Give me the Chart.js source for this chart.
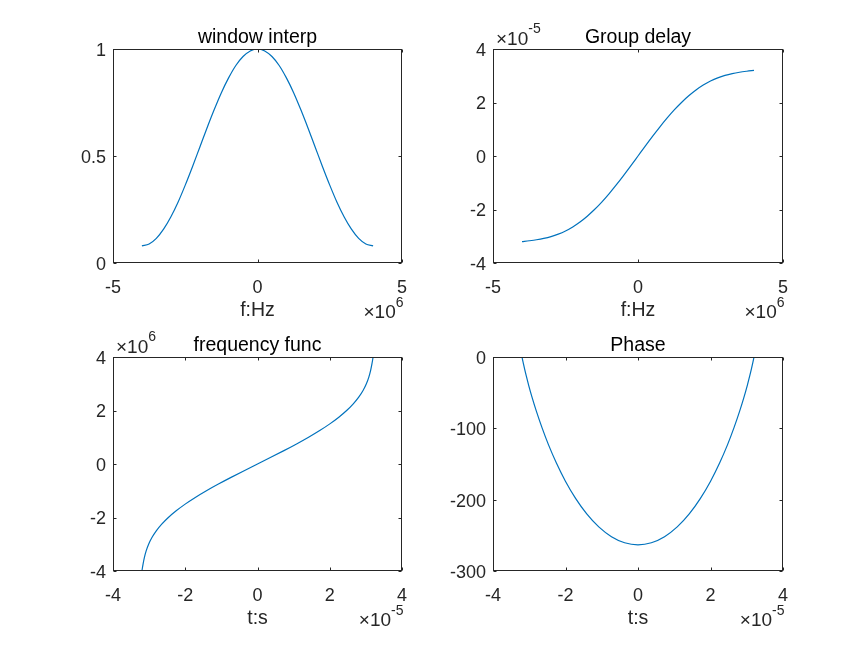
<!DOCTYPE html>
<html><head><meta charset="utf-8">
<script src="https://cdn.jsdelivr.net/npm/chart.js@4.4.1/dist/chart.umd.min.js"></script>
<style>
html,body{margin:0;padding:0;background:#fff;}
#wrap{position:relative;width:865px;height:648px;overflow:hidden;background:#fff;}
canvas{position:absolute;left:0;top:0;}
</style></head><body><div id="wrap">
<canvas id="c1" width="865" height="648"></canvas>
<canvas id="c2" width="865" height="648"></canvas>
<canvas id="c3" width="865" height="648"></canvas>
<canvas id="c4" width="865" height="648"></canvas>
</div>
<script>
// ---- data ----
const freqHz = [-4e6,-3.75e6,-3.5e6,-3.25e6,-3e6,-2.75e6,-2.5e6,-2.25e6,-2e6,-1.75e6,-1.5e6,-1.25e6,-1e6,-0.75e6,-0.5e6,-0.25e6,0,
  0.25e6,0.5e6,0.75e6,1e6,1.25e6,1.5e6,1.75e6,2e6,2.25e6,2.5e6,2.75e6,3e6,3.25e6,3.5e6,3.75e6,4e6];
const windowInterp = [0.080,0.089,0.115,0.158,0.215,0.284,0.364,0.450,0.540,0.630,0.716,0.796,0.865,0.923,0.965,0.991,1.000,
  0.991,0.965,0.923,0.865,0.796,0.716,0.630,0.540,0.450,0.364,0.284,0.215,0.158,0.115,0.089,0.080];
const groupDelayS = [-3.200e-5,-3.169e-5,-3.132e-5,-3.082e-5,-3.014e-5,-2.922e-5,-2.802e-5,-2.651e-5,-2.468e-5,-2.251e-5,-2.002e-5,-1.722e-5,-1.414e-5,-1.082e-5,-0.732e-5,-0.369e-5,0,
  0.369e-5,0.732e-5,1.082e-5,1.414e-5,1.722e-5,2.002e-5,2.251e-5,2.468e-5,2.651e-5,2.802e-5,2.922e-5,3.014e-5,3.082e-5,3.132e-5,3.169e-5,3.200e-5];
const timeS = [-3.200e-5,-3.169e-5,-3.132e-5,-3.082e-5,-3.014e-5,-2.922e-5,-2.802e-5,-2.651e-5,-2.468e-5,-2.251e-5,-2.002e-5,-1.722e-5,-1.414e-5,-1.082e-5,-0.732e-5,-0.369e-5,0,
  0.369e-5,0.732e-5,1.082e-5,1.414e-5,1.722e-5,2.002e-5,2.251e-5,2.468e-5,2.651e-5,2.802e-5,2.922e-5,3.014e-5,3.082e-5,3.132e-5,3.169e-5,3.200e-5];
const instFreqHz = [-4e6,-3.75e6,-3.5e6,-3.25e6,-3e6,-2.75e6,-2.5e6,-2.25e6,-2e6,-1.75e6,-1.5e6,-1.25e6,-1e6,-0.75e6,-0.5e6,-0.25e6,0,
  0.25e6,0.5e6,0.75e6,1e6,1.25e6,1.5e6,1.75e6,2e6,2.25e6,2.5e6,2.75e6,3e6,3.25e6,3.5e6,3.75e6,4e6];
const phaseRad = [0,-7.5,-16.0,-26.6,-40.0,-56.6,-76.3,-98.7,-123.2,-148.6,-174.1,-198.2,-220.0,-238.2,-251.9,-260.4,-263.3,
  -260.4,-251.9,-238.2,-220.0,-198.2,-174.1,-148.6,-123.2,-98.7,-76.3,-56.6,-40.0,-26.6,-16.0,-7.5,0];

// ---- ticks ----
const xTicksFreq = [-5e6, 0, 5e6];
const yTicksWindow = [0, 0.5, 1];
const yTicksDelay = [-4e-5, -2e-5, 0, 2e-5, 4e-5];
const xTicksTime = [-4e-5, -2e-5, 0, 2e-5, 4e-5];
const yTicksFreq = [-4e6, -2e6, 0, 2e6, 4e6];
const yTicksPhase = [-300, -200, -100, 0];

// ---- texts ----
const titles = ['window interp', 'Group delay', 'frequency func', 'Phase'];
const xLabels = ['f:Hz', 'f:Hz', 't:s', 't:s'];

const FONT = '"Liberation Sans", Arial, Helvetica, sans-serif';
const AX = '#262626';
const LINE = '#0072BD';
const Y_W = 60, X_H = 40;

function fmt(v){ return String(parseFloat(v.toFixed(6))); }

function drawExp(ctx, sup, x, y, align){
  const base = '\u00D710';
  ctx.textBaseline = 'alphabetic';
  ctx.font = '19px ' + FONT; const wb = ctx.measureText(base).width;
  ctx.font = '14px ' + FONT; const ws = ctx.measureText(sup).width;
  const x0 = align === 'right' ? x - wb - ws : x;
  ctx.textAlign = 'left';
  ctx.fillStyle = AX;
  ctx.font = '19px ' + FONT; ctx.fillText(base, x0, y);
  ctx.font = '14px ' + FONT; ctx.fillText(sup, x0 + wb, y - 11.5);
}

const matlabPlugin = {
  id: 'matlab',
  afterDraw(chart, args, o){
    const {ctx, chartArea: a, scales} = chart;
    const x = scales.x, y = scales.y;
    ctx.save();
    ctx.strokeStyle = AX; ctx.lineWidth = 1;
    const L = Math.round(a.left) + 0.5, R = Math.round(a.right) - 0.5;
    const T = Math.round(a.top) + 0.5, B = Math.round(a.bottom) - 0.5;
    ctx.strokeRect(L, T, R - L, B - T);
    const tl = 3;
    ctx.beginPath();
    x.ticks.forEach(t => {
      const px = Math.round(x.getPixelForValue(t.value)) + 0.5;
      ctx.moveTo(px, B); ctx.lineTo(px, B - tl);
      ctx.moveTo(px, T); ctx.lineTo(px, T + tl);
    });
    y.ticks.forEach(t => {
      const py = Math.round(y.getPixelForValue(t.value)) + 0.5;
      ctx.moveTo(L, py); ctx.lineTo(L + tl, py);
      ctx.moveTo(R, py); ctx.lineTo(R - tl, py);
    });
    ctx.stroke();
    const cx = (a.left + a.right) / 2;
    ctx.textAlign = 'center'; ctx.textBaseline = 'alphabetic';
    ctx.fillStyle = '#000';
    ctx.font = '19.5px ' + FONT;
    ctx.fillText(o.title, cx, a.top - 6.5);
    ctx.fillStyle = AX;
    ctx.fillText(o.xlabel, cx, a.bottom + 52.5);
    if (o.xExp) drawExp(ctx, o.xExp, a.right + 1.5, a.bottom + 55, 'right');
    if (o.yExp) drawExp(ctx, o.yExp, a.left + 3, a.top - 4.5, 'left');
    ctx.restore();
  }
};

function axis(pos, min, max, ticks, factor){
  const horiz = pos === 'bottom';
  return {
    type: 'linear', position: pos, min: min, max: max,
    afterBuildTicks: s => { s.ticks = ticks.map(v => ({value: v})); },
    afterFit: s => { if (horiz) s.height = X_H; else s.width = Y_W; },
    ticks: {
      callback: v => fmt(v / factor),
      font: {family: FONT, size: 18},
      color: AX, padding: horiz ? 14.5 : 7, labelOffset: horiz ? 0 : 2,
      autoSkip: false, maxRotation: 0, minRotation: 0
    },
    grid: {display: false, drawTicks: false},
    border: {display: false}
  };
}

function makeChart(id, area, xs, ys, xAx, yAx, opts){
  const pts = xs.map((v, i) => ({x: v, y: ys[i]}));
  return new Chart(document.getElementById(id), {
    type: 'scatter',
    data: {datasets: [{data: pts, showLine: true, pointRadius: 0, borderColor: LINE,
      borderWidth: 1.2, cubicInterpolationMode: 'monotone', fill: false}]},
    options: {
      responsive: false, animation: false, events: [],
      layout: {padding: {left: area.L - Y_W, right: 865 - area.R, top: area.T, bottom: 648 - area.B - X_H}},
      scales: {x: xAx, y: yAx},
      plugins: {legend: {display: false}, tooltip: {enabled: false}, title: {display: false}, matlab: opts}
    },
    plugins: [matlabPlugin]
  });
}

makeChart('c1', {L: 113, R: 402, T: 49, B: 263}, freqHz, windowInterp,
  axis('bottom', -5e6, 5e6, xTicksFreq, 1e6), axis('left', 0, 1, yTicksWindow, 1),
  {title: titles[0], xlabel: xLabels[0], xExp: '6'});
makeChart('c2', {L: 493, R: 783, T: 49, B: 263}, freqHz, groupDelayS,
  axis('bottom', -5e6, 5e6, xTicksFreq, 1e6), axis('left', -4e-5, 4e-5, yTicksDelay, 1e-5),
  {title: titles[1], xlabel: xLabels[1], xExp: '6', yExp: '-5'});
makeChart('c3', {L: 113, R: 402, T: 357, B: 571}, timeS, instFreqHz,
  axis('bottom', -4e-5, 4e-5, xTicksTime, 1e-5), axis('left', -4e6, 4e6, yTicksFreq, 1e6),
  {title: titles[2], xlabel: xLabels[2], xExp: '-5', yExp: '6'});
makeChart('c4', {L: 493, R: 783, T: 357, B: 571}, timeS, phaseRad,
  axis('bottom', -4e-5, 4e-5, xTicksTime, 1e-5), axis('left', -300, 0, yTicksPhase, 1),
  {title: titles[3], xlabel: xLabels[3], xExp: '-5'});
</script>
</body></html>
